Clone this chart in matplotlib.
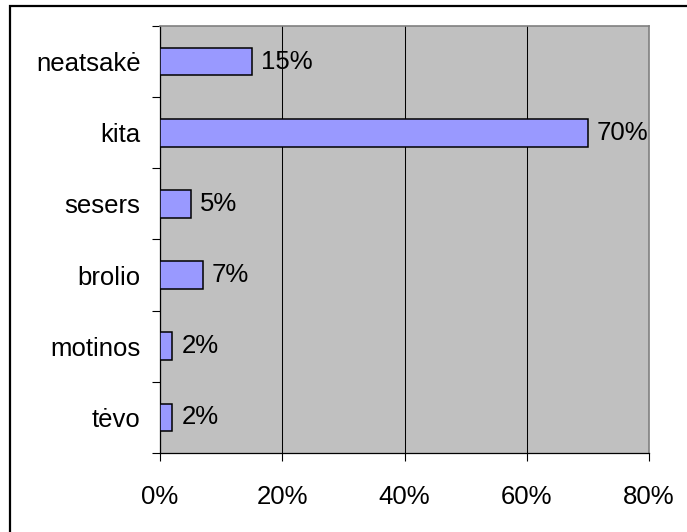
import matplotlib
matplotlib.use("Agg")
import matplotlib.pyplot as plt
from matplotlib.patches import Rectangle
from matplotlib.ticker import FuncFormatter

# duomenys (apačia -> viršus)
categories = ["tėvo", "motinos", "brolio", "sesers", "kita", "neatsakė"]
values = [2, 2, 7, 5, 70, 15]
x_ticks = [0, 20, 40, 60, 80]

plt.rcParams["font.family"] = ["Liberation Sans", "DejaVu Sans"]
FS = 18.5

fig = plt.figure(figsize=(6.87, 5.32), dpi=100)
ax = fig.add_axes([160/687, 1 - 453/532, (649 - 160)/687, (453 - 26)/532])
ax.set_facecolor("#C0C0C0")

pos = list(range(len(categories)))
bars = ax.barh(pos, values, height=0.39, color="#9999FF",
               edgecolor="black", linewidth=1.1, zorder=3)
for y, v in zip(pos, values):
    ax.text(v + 1.5, y, f"{v}%", va="center", ha="left",
            fontsize=FS, zorder=4)

ax.set_xlim(0, 80)
ax.set_ylim(-0.5, len(categories) - 0.5)
ax.set_xticks(x_ticks)
ax.xaxis.set_major_formatter(FuncFormatter(lambda v, p: f"{v:.0f}%"))
ax.tick_params(axis="x", length=6, width=0.8, pad=17, labelsize=FS)
ax.grid(axis="x", color="black", linewidth=0.75, zorder=1)

# y: žymės tarp kategorijų, etiketės centre
ax.set_yticks([p - 0.5 for p in pos] + [len(pos) - 0.5])
ax.set_yticklabels([])
ax.tick_params(axis="y", which="major", length=6, width=0.8)
ax.set_yticks(pos, minor=True)
ax.set_yticklabels(categories, minor=True)
ax.tick_params(axis="y", which="minor", length=0, pad=14, labelsize=FS)

for s in ("left", "bottom"):
    ax.spines[s].set_color("black")
    ax.spines[s].set_linewidth(0.9)
for s in ("right", "top"):
    ax.spines[s].set_color("#808080")
    ax.spines[s].set_linewidth(1.2)

# išorinis rėmas (kairė ir viršus matomi)
fig.add_artist(Rectangle((10/687, -0.2), 1.5, 1.2 - 6/532,
                         transform=fig.transFigure, fill=False,
                         edgecolor="black", linewidth=1.6))

fig.savefig("out.png", dpi=100)
